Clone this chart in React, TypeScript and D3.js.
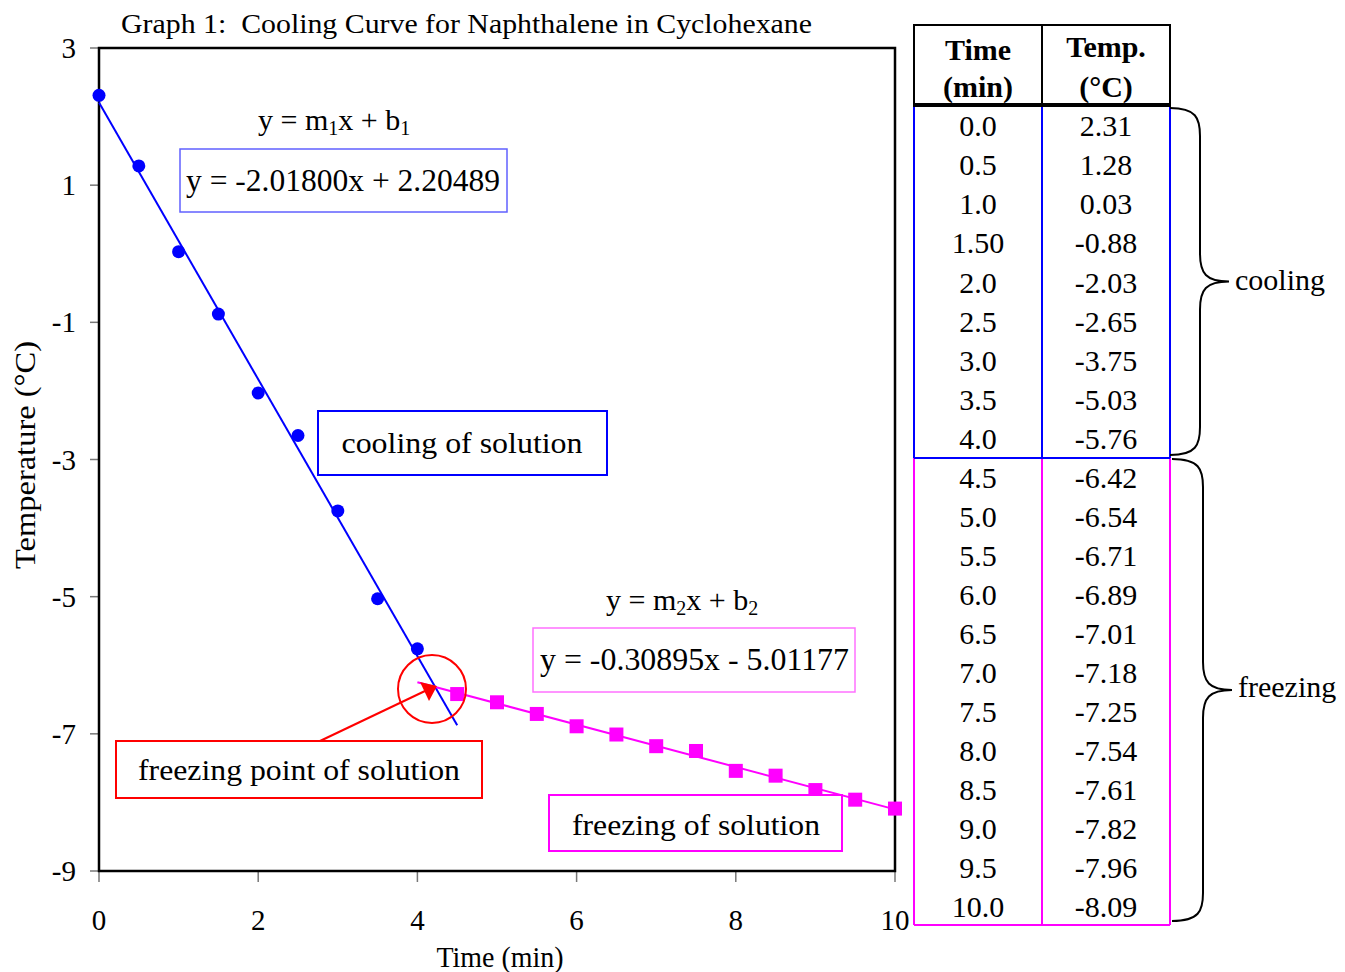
import React from "react";
import * as d3 from "d3";

const coolTime = [0.0, 0.5, 1.0, 1.5, 2.0, 2.5, 3.0, 3.5, 4.0];
const coolTemp = [2.31, 1.28, 0.03, -0.88, -2.03, -2.65, -3.75, -5.03, -5.76];
const freezeTime = [4.5, 5.0, 5.5, 6.0, 6.5, 7.0, 7.5, 8.0, 8.5, 9.0, 9.5, 10.0];
const freezeTemp = [-6.42, -6.54, -6.71, -6.89, -7.01, -7.18, -7.25, -7.54, -7.61, -7.82, -7.96, -8.09];
const coolTimeLabels = ["0.0", "0.5", "1.0", "1.50", "2.0", "2.5", "3.0", "3.5", "4.0"];
const coolTempLabels = ["2.31", "1.28", "0.03", "-0.88", "-2.03", "-2.65", "-3.75", "-5.03", "-5.76"];
const freezeTimeLabels = ["4.5", "5.0", "5.5", "6.0", "6.5", "7.0", "7.5", "8.0", "8.5", "9.0", "9.5", "10.0"];
const freezeTempLabels = ["-6.42", "-6.54", "-6.71", "-6.89", "-7.01", "-7.18", "-7.25", "-7.54", "-7.61", "-7.82", "-7.96", "-8.09"];
const xTicks = [0, 2, 4, 6, 8, 10];
const yTicks = [3, 1, -1, -3, -5, -7, -9];
const fit1 = { m: -2.018, b: 2.20489, x0: 0, x1: 4.5 };
const fit2 = { m: -0.30895, b: -5.01177, x0: 4.0, x1: 10 };

const FONT = "'Liberation Serif', 'Times New Roman', serif";
const BLUE = "#0000ff";
const MAG = "#ff00ff";
const RED = "#ff0000";

export default function App() {
  const x = d3.scaleLinear().domain([0, 10]).range([99, 895]);
  const y = d3.scaleLinear().domain([-9, 3]).range([871, 48]);
  const line = d3.line<[number, number]>().x((d) => x(d[0])).y((d) => y(d[1]));
  const l1: [number, number][] = [fit1.x0, fit1.x1].map((t) => [t, fit1.m * t + fit1.b]);
  const l2: [number, number][] = [fit2.x0, fit2.x1].map((t) => [t, fit2.m * t + fit2.b]);

  // table geometry
  const tx0 = 914, tx1 = 1042, tx2 = 1170;
  const hTop = 25, hBot = 105;
  const coolBot = 458, freezeBot = 925;
  const coolRow = (coolBot - hBot) / coolTime.length;
  const freezeRow = (freezeBot - coolBot) / freezeTime.length;
  const c1 = (tx0 + tx1) / 2, c2 = (tx1 + tx2) / 2;

  const brace = (x0: number, y0: number, y1: number, xm: number, xt: number) => {
    const mid = (y0 + y1) / 2;
    const r = 28;
    return `M${x0},${y0} C${xm - 4},${y0} ${xm},${y0 + 10} ${xm},${y0 + r}
      L${xm},${mid - r} C${xm},${mid - 8} ${xm + 6},${mid} ${xt},${mid}
      C${xm + 6},${mid} ${xm},${mid + 8} ${xm},${mid + r}
      L${xm},${y1 - r} C${xm},${y1 - 10} ${xm - 4},${y1} ${x0},${y1}`;
  };

  return (
    <svg width={1345} height={972} style={{ display: "block", position: "absolute", left: 0, top: 0 }} fontFamily={FONT}>
      <rect width={1345} height={972} fill="#fff" />
      <text x={121} y={33} fontSize={28} textLength={691} lengthAdjust="spacingAndGlyphs">
        {"Graph 1:\u00A0 Cooling Curve for Naphthalene in Cyclohexane"}
      </text>

      {/* ticks */}
      {yTicks.map((t) => (
        <g key={"y" + t}>
          <line x1={90} x2={99} y1={y(t)} y2={y(t)} stroke="#777" strokeWidth={1.5} />
          <text x={76} y={y(t) + 10} fontSize={29} textAnchor="end">{t}</text>
        </g>
      ))}
      {xTicks.map((t) => (
        <g key={"x" + t}>
          <line x1={x(t)} x2={x(t)} y1={871} y2={882} stroke="#777" strokeWidth={1.5} />
          <text x={x(t)} y={930} fontSize={29} textAnchor="middle">{t}</text>
        </g>
      ))}
      <rect x={99} y={48} width={796} height={823} fill="none" stroke="#000" strokeWidth={2.5} />

      <text x={500} y={967} fontSize={29} textAnchor="middle" textLength={127} lengthAdjust="spacingAndGlyphs">Time (min)</text>
      <text transform="translate(35,455) rotate(-90)" fontSize={29} textAnchor="middle" textLength={228} lengthAdjust="spacingAndGlyphs">Temperature (°C)</text>

      {/* fit lines */}
      <path d={line(l1) || ""} stroke={BLUE} strokeWidth={2} fill="none" />
      <path d={line(l2) || ""} stroke={MAG} strokeWidth={2} fill="none" />

      {/* markers */}
      {coolTime.map((t, i) => (
        <circle key={"c" + i} cx={x(t)} cy={y(coolTemp[i])} r={6.5} fill={BLUE} />
      ))}
      {freezeTime.map((t, i) => (
        <rect key={"s" + i} x={x(t) - 7} y={y(freezeTemp[i]) - 7} width={14} height={14} fill={MAG} />
      ))}

      {/* annotations */}
      <text x={258} y={130} fontSize={30}>
        y = m<tspan fontSize={20} dy={5}>1</tspan><tspan dy={-5}>x + b</tspan><tspan fontSize={20} dy={5}>1</tspan>
      </text>
      <rect x={180} y={149} width={327} height={63} fill="#fff" stroke="#6060ff" strokeWidth={1.5} />
      <text x={186} y={191} fontSize={31} textLength={314} lengthAdjust="spacingAndGlyphs">y = -2.01800x + 2.20489</text>

      <rect x={318} y={411} width={289} height={64} fill="#fff" stroke={BLUE} strokeWidth={2} />
      <text x={462} y={453} fontSize={30} textAnchor="middle" textLength={241} lengthAdjust="spacingAndGlyphs">cooling of solution</text>

      <text x={606} y={610} fontSize={30}>
        y = m<tspan fontSize={20} dy={5}>2</tspan><tspan dy={-5}>x + b</tspan><tspan fontSize={20} dy={5}>2</tspan>
      </text>
      <rect x={533} y={628} width={322} height={64} fill="#fff" stroke="#ff70ff" strokeWidth={1.5} />
      <text x={540} y={670} fontSize={31} textLength={309} lengthAdjust="spacingAndGlyphs">y = -0.30895x - 5.01177</text>

      <rect x={116} y={741} width={366} height={57} fill="#fff" stroke={RED} strokeWidth={2} />
      <text x={299} y={780} fontSize={30} textAnchor="middle" textLength={322} lengthAdjust="spacingAndGlyphs">freezing point of solution</text>

      <rect x={549} y={795} width={293} height={56} fill="#fff" stroke={MAG} strokeWidth={2} />
      <text x={696} y={835} fontSize={30} textAnchor="middle" textLength={248} lengthAdjust="spacingAndGlyphs">freezing of solution</text>

      <circle cx={432} cy={689} r={34} fill="none" stroke={RED} strokeWidth={2} />
      <line x1={320} y1={741} x2={425} y2={691} stroke={RED} strokeWidth={2} />
      <path d="M437,686 L420,682 L429,701 Z" fill={RED} />

      {/* table */}
      <text x={c1} y={60} fontSize={30} fontWeight="bold" textAnchor="middle">Time</text>
      <text x={c1} y={97} fontSize={30} fontWeight="bold" textAnchor="middle">(min)</text>
      <text x={c2} y={57} fontSize={30} fontWeight="bold" textAnchor="middle">Temp.</text>
      <text x={c2} y={97} fontSize={30} fontWeight="bold" textAnchor="middle">(°C)</text>
      <rect x={tx0} y={hTop} width={tx2 - tx0} height={hBot - hTop} fill="none" stroke="#000" strokeWidth={2} />
      <line x1={tx1} x2={tx1} y1={hTop} y2={hBot} stroke="#000" strokeWidth={2} />
      {coolTimeLabels.map((s, i) => (
        <g key={"tc" + i}>
          <text x={c1} y={hBot + coolRow * (i + 0.5) + 11} fontSize={30} textAnchor="middle">{s}</text>
          <text x={c2} y={hBot + coolRow * (i + 0.5) + 11} fontSize={30} textAnchor="middle">{coolTempLabels[i]}</text>
        </g>
      ))}
      {freezeTimeLabels.map((s, i) => (
        <g key={"tf" + i}>
          <text x={c1} y={coolBot + freezeRow * (i + 0.5) + 11} fontSize={30} textAnchor="middle">{s}</text>
          <text x={c2} y={coolBot + freezeRow * (i + 0.5) + 11} fontSize={30} textAnchor="middle">{freezeTempLabels[i]}</text>
        </g>
      ))}
      {[tx0, tx1, tx2].map((xx) => (
        <g key={"v" + xx}>
          <line x1={xx} x2={xx} y1={hBot} y2={coolBot} stroke={BLUE} strokeWidth={2} />
          <line x1={xx} x2={xx} y1={coolBot} y2={freezeBot} stroke={MAG} strokeWidth={2} />
        </g>
      ))}
      <line x1={tx0} x2={tx2} y1={coolBot} y2={coolBot} stroke={BLUE} strokeWidth={2} />
      <line x1={tx0} x2={tx2} y1={freezeBot} y2={freezeBot} stroke={MAG} strokeWidth={2} />
      <line x1={tx0 - 1} x2={tx2 + 1} y1={hBot} y2={hBot} stroke="#000" strokeWidth={4} />

      {/* braces */}
      <path d={brace(1170, 108, 455, 1200, 1229)} fill="none" stroke="#000" strokeWidth={2} />
      <text x={1235} y={290} fontSize={30}>cooling</text>
      <path d={brace(1172, 459, 921, 1203, 1232)} fill="none" stroke="#000" strokeWidth={2} />
      <text x={1238} y={697} fontSize={30}>freezing</text>
    </svg>
  );
}
